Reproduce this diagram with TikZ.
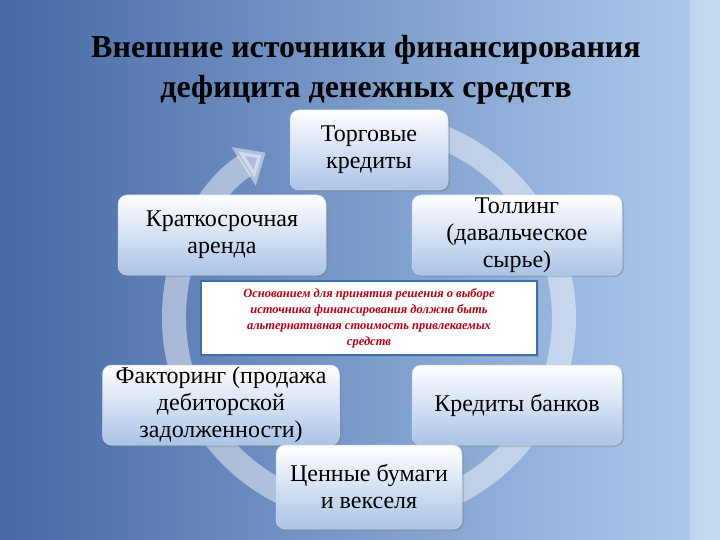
\documentclass[tikz,border=0pt]{standalone}
\usepackage{fontspec}
\setmainfont{Liberation Serif}
\usetikzlibrary{arrows.meta,shadows}
\definecolor{bgL}{RGB}{70,105,165}
\definecolor{bgR}{RGB}{175,205,238}
\definecolor{boxB}{RGB}{170,195,230}
\definecolor{boxD}{RGB}{200,215,240}
\definecolor{midB}{RGB}{60,110,180}
\definecolor{txtR}{RGB}{190,0,20}
\begin{document}
\begin{tikzpicture}[x=1pt,y=-1pt,
  box/.style={rounded corners=9pt,top color=white,bottom color=boxB,
    draw=boxD,line width=0.5pt,align=center,font=\fontsize{24}{27}\selectfont,
    inner sep=0pt,drop shadow={opacity=0.35,shadow xshift=2pt,shadow yshift=-2pt}},
  ]
\useasboundingbox (0,0) rectangle (720,540);
\shade[left color=bgL,right color=bgR] (0,0) rectangle (720,540);
\fill[white,opacity=0.25] (690,0) rectangle (720,540);
\draw[white,line width=1.2pt] (640,0) arc[start angle=200,end angle=270,radius=90] ;
\coordinate (ctr) at (369,318);
\draw[white,opacity=0.45,line width=24pt,-{Triangle[length=26pt,width=44pt]}]
  (ctr) ++(-95:195) arc[start angle=-95,end angle=238,radius=195];
\node[font=\bfseries\fontsize{32}{40}\selectfont,align=center] (title) at (366,70)
  {Внешние источники финансирования\\дефицита денежных средств};
\node[box,minimum width=158pt,minimum height=80pt] (a) at (369,150) {Торговые\\кредиты};
\node[box,minimum width=208pt,minimum height=80pt] (b) at (222,235) {Краткосрочная\\аренда};
\node[box,minimum width=210pt,minimum height=80pt] (c) at (517,235) {Толлинг\\(давальческое\\сырье)};
\node[box,minimum width=237pt,minimum height=80pt] (d) at (221,405) {Факторинг (продажа\\дебиторской\\задолженности)};
\node[box,minimum width=210pt,minimum height=80pt] (e) at (517,405) {Кредиты банков};
\node[box,minimum width=186pt,minimum height=84pt] (f) at (369,487) {Ценные бумаги\\и векселя};
\node[fill=white,draw=midB,line width=2.5pt,minimum width=336pt,minimum height=74pt,
  inner sep=0pt,align=center,text=txtR,font=\bfseries\itshape\fontsize{12.5}{16}\selectfont,
  drop shadow={opacity=0.3}] (m) at (369,318)
  {Основанием для принятия решения о выборе\\источника финансирования должна быть\\альтернативная стоимость привлекаемых\\средств};
\end{tikzpicture}
\end{document}
